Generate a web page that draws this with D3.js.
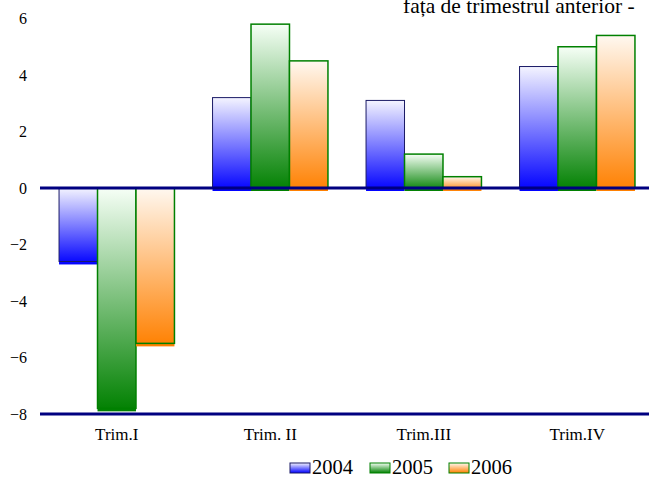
<!DOCTYPE html>
<html>
<head>
<meta charset="utf-8">
<script src="https://cdn.jsdelivr.net/npm/d3@7"></script>
<style>
  body { margin: 0; background: #fff; }
  svg { display: block; }
  svg text { font-family: "Liberation Serif", "Times New Roman", Times, serif !important; fill: #000; }
</style>
</head>
<body>
<svg width="649" height="478"></svg>
<script>
// chart data
const quarters = ["Trim.I", "Trim. II", "Trim.III", "Trim.IV"];
const years = ["2004", "2005", "2006"];
const v2004 = [-2.6, 3.2, 3.1, 4.3];
const v2005 = [-7.8, 5.8, 1.2, 5.0];
const v2006 = [-5.5, 4.5, 0.4, 5.4];
const yTicks = [-8, -6, -4, -2, 0, 2, 4, 6];
const titleText = "fața de trimestrul anterior -";

const series = [v2004, v2005, v2006];
const colors = {
    "2004": { top: "#f4f4ff", bottom: "#0000ff", stroke: "#1a1a66", sw: 1 },
    "2005": { top: "#f6fff6", bottom: "#008000", stroke: "#008000", sw: 1.5 },
    "2006": { top: "#fff8f0", bottom: "#ff8000", stroke: "#008000", sw: 1.5 }
};

const svg = d3.select("svg");

// gradients, light on top and saturated at the bottom
const defs = svg.append("defs");
years.forEach(yr => {
    const g = defs.append("linearGradient")
        .attr("id", "grad" + yr)
        .attr("x1", 0).attr("y1", 0).attr("x2", 0).attr("y2", 1);
    g.append("stop").attr("offset", "0%").attr("stop-color", colors[yr].top);
    g.append("stop").attr("offset", "100%").attr("stop-color", colors[yr].bottom);
});

const x0 = d3.scaleBand().domain(quarters).range([40, 654]);
const groupW = x0.bandwidth() / 1.33;
const x1 = d3.scaleBand().domain(years).range([0, groupW]);
const y = d3.scaleLinear().domain([-8, 6]).range([414, 18.5]);

// y labels, no axis line
svg.append("g")
    .attr("transform", "translate(27,0)")
    .call(d3.axisLeft(y).tickValues(yTicks).tickSize(0).tickPadding(0).tickFormat(d3.format("d")))
    .call(g => g.select(".domain").remove())
    .selectAll("text")
    .style("font-size", "16px");

// bars
const rows = [];
quarters.forEach((q, i) => {
    years.forEach((yr, j) => rows.push({ q: q, yr: yr, v: series[j][i] }));
});

const bars = svg.append("g").selectAll("g")
    .data(rows)
    .join("g")
    .attr("transform", d => `translate(${x0(d.q) + (x0.bandwidth() - groupW) / 2 + x1(d.yr)},0)`);

// fill runs a bit below the outline, like the original
bars.append("rect")
    .attr("x", 0)
    .attr("width", x1.bandwidth())
    .attr("y", d => y(Math.max(0, d.v)))
    .attr("height", d => Math.abs(y(d.v) - y(0)) + 3)
    .attr("fill", d => `url(#grad${d.yr})`);

bars.append("rect")
    .attr("x", 0)
    .attr("width", x1.bandwidth())
    .attr("y", d => y(Math.max(0, d.v)))
    .attr("height", d => Math.abs(y(d.v) - y(0)))
    .attr("fill", "none")
    .attr("stroke", d => colors[d.yr].stroke)
    .attr("stroke-width", d => colors[d.yr].sw);

// zero line and bottom line
[0, -8].forEach(v => {
    svg.append("line")
        .attr("x1", 40).attr("x2", 649)
        .attr("y1", y(v)).attr("y2", y(v))
        .attr("stroke", "#000080")
        .attr("stroke-width", 3);
});

// category labels
svg.append("g").selectAll("text")
    .data(quarters)
    .join("text")
    .attr("x", d => x0(d) + x0.bandwidth() / 2)
    .attr("y", 440)
    .attr("text-anchor", "middle")
    .style("font-size", "17px")
    .text(d => d);

// clipped title
svg.append("text")
    .attr("x", 403)
    .attr("y", 13)
    .style("font-size", "21.5px")
    .text(titleText);

// legend
const legendX = [290, 370, 449];
const legend = svg.append("g").selectAll("g")
    .data(years)
    .join("g")
    .attr("transform", (d, i) => `translate(${legendX[i]},463)`);

legend.append("rect")
    .attr("width", 20).attr("height", 10)
    .attr("fill", d => `url(#grad${d})`)
    .attr("stroke", d => colors[d].stroke)
    .attr("stroke-width", 1);

legend.append("text")
    .attr("x", 22)
    .attr("y", 10.5)
    .style("font-size", "20.5px")
    .text(d => d);
</script>
</body>
</html>
